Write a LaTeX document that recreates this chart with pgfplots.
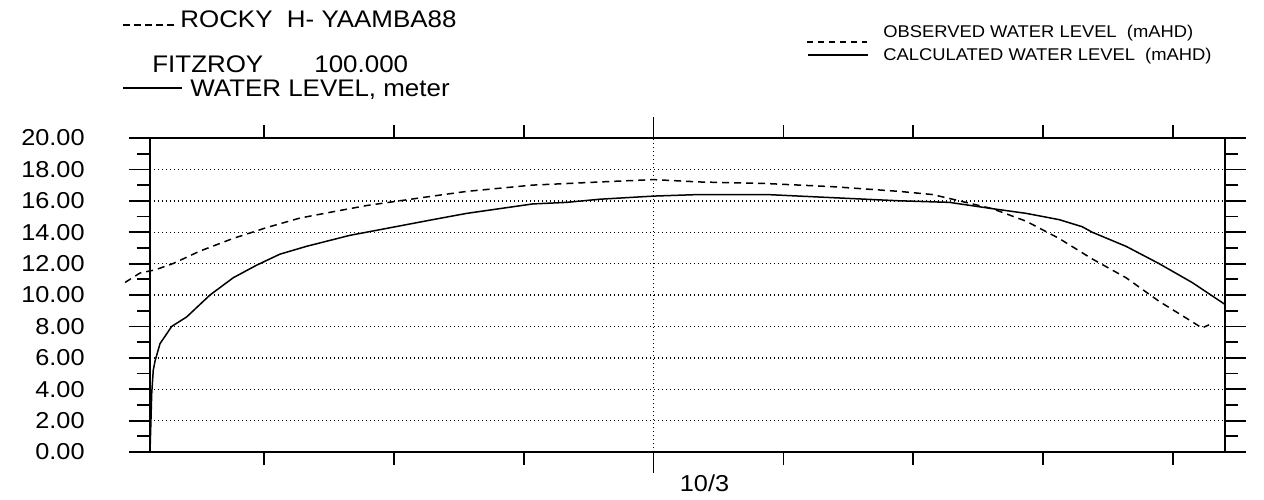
\documentclass[border=0pt]{standalone}
\usepackage{fontspec}
\setmainfont{Liberation Sans}
\newfontfamily\tickfont[FakeStretch=1.1]{Liberation Sans}
\newfontfamily\titfont[FakeStretch=1.08]{Liberation Sans}
\newfontfamily\legfont[FakeStretch=1.08]{Liberation Sans}
\usepackage{pgfplots}
\pgfplotsset{compat=1.18}
\pgfplotstableread{
x y
-3.877 0.0
-3.869 2.2
-3.864 3.7
-3.852 5.2
-3.838 5.8
-3.800 6.9
-3.710 8.0
-3.595 8.6
-3.415 10.0
-3.236 11.1
-3.056 11.9
-2.877 12.6
-2.672 13.1
-2.338 13.8
-1.954 14.4
-1.700 14.8
-1.438 15.2
-1.185 15.5
-0.931 15.8
-0.669 15.9
-0.415 16.1
0.000 16.3
0.354 16.4
0.869 16.4
1.377 16.2
1.892 16.0
2.277 15.9
2.608 15.5
2.869 15.2
3.123 14.8
3.300 14.35
3.377 14.0
3.638 13.1
3.892 12.0
4.146 10.8
4.400 9.4
}\calc
\pgfplotstableread{
x y
-4.069 10.8
-3.954 11.4
-3.838 11.6
-3.700 12.0
-3.492 12.8
-3.238 13.6
-2.977 14.3
-2.723 14.9
-2.469 15.3
-2.208 15.7
-1.954 16.0
-1.700 16.3
-1.438 16.6
-1.185 16.8
-0.931 17.0
-0.669 17.1
-0.415 17.2
0.000 17.35
0.354 17.2
0.869 17.1
1.123 17.0
1.377 16.9
1.638 16.75
1.892 16.6
2.146 16.4
2.277 16.15
2.608 15.5
2.869 14.7
3.123 13.6
3.377 12.3
3.638 11.1
3.892 9.6
4.146 8.3
4.223 7.9
4.277 8.1
}\obs
\begin{document}
\begin{tikzpicture}[x=1pt,y=1pt]
\useasboundingbox (0,0) rectangle (632,249.5);
\begin{axis}[
  at={(75pt,23.5pt)}, anchor=south west,
  scale only axis, width=537.5pt, height=157pt,
  xmin=-3.877, xmax=4.40, ymin=0, ymax=20,
  clip=false,
  axis line style={line width=0.9pt},
  tick pos=both, tick align=outside,
  major tick length=10.5pt, minor tick length=6.5pt,
  every tick/.style={black, line width=0.9pt},
  xtick={0}, xticklabels={10/3},
  minor xtick={-3,-2,-1,1,2,3,4},
  ytick={0,2,...,20}, minor ytick={1,3,...,19},
  yticklabels={0.00,2.00,4.00,6.00,8.00,10.00\hspace{4.5pt},12.00\hspace{4.5pt},14.00\hspace{4.5pt},16.00\hspace{4.5pt},18.00\hspace{4.5pt},20.00\hspace{4.5pt}},
  xticklabel pos=lower, yticklabel pos=left,
  yticklabel style={font=\tickfont\fontsize{11.5}{13}\selectfont, anchor=east, inner sep=0pt, xshift=-22pt},
  xticklabel style={font=\tickfont\fontsize{11.5}{13}\selectfont, anchor=center, inner sep=0pt, xshift=25.5pt, yshift=-5pt},
  xmajorgrids, ymajorgrids,
  major grid style={black, line width=0.7pt, dash pattern=on 0.7pt off 1.3pt},
]
\addplot[black, line width=0.75pt] table {\calc};
\addplot[black, line width=0.75pt, dash pattern=on 3.5pt off 2.5pt] table {\obs};
\end{axis}
% top-left header
\draw[black, line width=0.7pt, dash pattern=on 3.5pt off 2pt] (61.5,237) -- (87.5,237);
\node[anchor=base west, inner sep=0pt, font=\titfont\fontsize{12}{14}\selectfont] at (90,235.5) {ROCKY\ \ H- YAAMBA88};
\node[anchor=base west, inner sep=0pt, font=\titfont\fontsize{12}{14}\selectfont] at (76,213) {FITZROY};
\node[anchor=base west, inner sep=0pt, font=\titfont\fontsize{12}{14}\selectfont] at (157,213) {100.000};
\draw[black, line width=0.7pt] (61.5,205.5) -- (91,205.5);
\node[anchor=base west, inner sep=0pt, font=\titfont\fontsize{12}{14}\selectfont] at (95,201) {WATER LEVEL, meter};
% top-right legend
\draw[black, line width=0.7pt, dash pattern=on 3pt off 2.5pt] (403.5,228.5) -- (433.5,228.5);
\node[anchor=base west, inner sep=0pt, font=\legfont\fontsize{8.5}{10}\selectfont] at (441.5,230.5) {OBSERVED WATER LEVEL\ \ (mAHD)};
\draw[black, line width=0.7pt] (404,222) -- (434,222);
\node[anchor=base west, inner sep=0pt, font=\legfont\fontsize{8.5}{10}\selectfont] at (441.5,219) {CALCULATED WATER LEVEL\ \ (mAHD)};
\end{tikzpicture}
\end{document}
